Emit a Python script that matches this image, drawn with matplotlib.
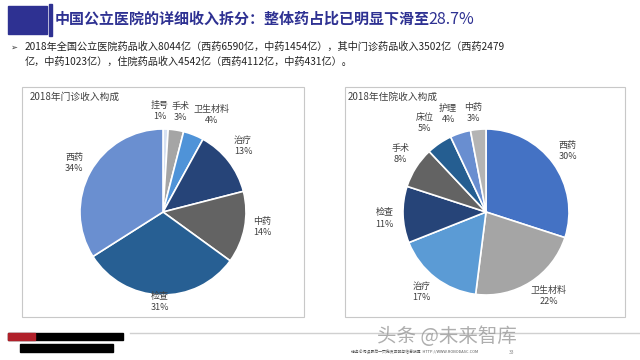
import numpy as np
import matplotlib.pyplot as plt
from matplotlib.patches import Rectangle

plt.rcParams['font.family'] = ['Noto Sans CJK SC', 'DejaVu Sans']

# data
title = '中国公立医院的详细收入拆分：整体药占比已明显下滑至'
title_num = '28.7%'
bullet1 = '2018年全国公立医院药品收入8044亿（西药6590亿，中药1454亿），其中门诊药品收入3502亿（西药2479'
bullet2 = '亿，中药1023亿），住院药品收入4542亿（西药4112亿，中药431亿）。'

op_title = '2018年门诊收入构成'
op_names = ['挂号', '手术', '卫生材料', '治疗', '中药', '检查', '西药']
op_vals = [1, 3, 4, 13, 14, 31, 34]
op_colors = ['#d6e1f2', '#a5a5a5', '#4f93d8', '#264478', '#636363', '#275f93', '#6a8fd0']

ip_title = '2018年住院收入构成'
ip_names = ['西药', '卫生材料', '治疗', '检查', '手术', '床位', '护理', '中药']
ip_vals = [30, 22, 17, 11, 8, 5, 4, 3]
ip_colors = ['#4472c4', '#a5a5a5', '#5b9bd5', '#264478', '#636363', '#255e91', '#698ed0', '#b4b4b4']

W, H = 640, 360
fig = plt.figure(figsize=(6.4, 3.6), dpi=100)
bg = fig.add_axes([0, 0, 1, 1])
bg.set_xlim(0, W)
bg.set_ylim(H, 0)
bg.axis('off')

navy = '#2e3192'
# header
bg.add_patch(Rectangle((8, 6), 39, 28, color=navy))
bg.add_patch(Rectangle((49, 4), 2.5, 32, color=navy))
t = bg.text(55, 19, title, fontsize=10.8, color=navy, va='center', ha='left', fontweight='bold')
bg.annotate(title_num, xy=(1, 0.5), xycoords=t, xytext=(-1, 0), textcoords='offset points',
            fontsize=11.5, color=navy, va='center', ha='left')
bg.text(10, 47, '➢', fontsize=6, va='center', color='#333333', family=['DejaVu Sans'])
bg.text(25, 47, bullet1, fontsize=7.3, va='center', color='#222222')
bg.text(25, 62, bullet2, fontsize=7.3, va='center', color='#222222')

# panel boxes
for x0, x1 in [(22, 304), (345, 625)]:
    bg.add_patch(Rectangle((x0, 87), x1 - x0, 230, fill=False, ec='#c8c8c8', lw=0.8))
bg.text(30, 97, op_title, fontsize=7, color='#404040', va='center')
bg.text(348, 97, ip_title, fontsize=7, color='#404040', va='center')

# footer
bg.plot([130, 640], [333, 333], color='#d0d0d0', lw=1)
bg.add_patch(Rectangle((8, 333), 115, 7, color='black'))
bg.add_patch(Rectangle((8, 333), 27, 7, color='#b0202a'))
bg.add_patch(Rectangle((20, 344), 93, 8, color='black'))
bg.text(447, 336, '头条 @未来智库', fontsize=14, color='#9a9a9a', alpha=0.8, ha='center', va='center')
bg.text(415, 352, '请务必阅读最后一页免责声明与信息披露  HTTP://WWW.ROBODASC.COM', fontsize=2.8,
        color='#555555', ha='center', va='center')
bg.text(512, 352, '33', fontsize=3.5, color='#888888', ha='center', va='center')


def draw_pie(cx, cy, r, vals, names, colors, nudges):
    ax = fig.add_axes([(cx - r) / W, (H - cy - r) / H, 2 * r / W, 2 * r / H])
    wedges, _ = ax.pie(vals, colors=colors, startangle=90, counterclock=False,
                       wedgeprops=dict(edgecolor='white', linewidth=1.2))
    ax.set_xlim(-1, 1)
    ax.set_ylim(-1, 1)
    ax.set_aspect('equal')
    for w, n, v, (dist, dx, dy) in zip(wedges, names, vals, nudges):
        ang = np.deg2rad((w.theta1 + w.theta2) / 2)
        ax.text(dist * np.cos(ang) + dx, dist * np.sin(ang) + dy, f'{n}\n{v}%',
                ha='center', va='center', fontsize=6.5, color='#404040', linespacing=1.3)
    return ax


op_nudge = [(1.22, -0.08, 0), (1.22, 0.02, 0), (1.22, 0.14, 0.03), (1.22, 0, 0.05),
            (1.22, 0, 0.05), (1.08, 0, 0), (1.22, 0, 0)]
ip_nudge = [(1.22, 0, 0.02), (1.22, 0.1, 0.02), (1.22, -0.03, 0), (1.22, 0, -0.04),
            (1.22, 0, 0.04), (1.22, -0.05, 0.06), (1.22, -0.08, 0.02), (1.22, -0.04, -0.02)]

draw_pie(163, 212, 83, op_vals, op_names, op_colors, op_nudge)
draw_pie(486, 212, 83, ip_vals, ip_names, ip_colors, ip_nudge)

fig.savefig('out.png', dpi=100)
